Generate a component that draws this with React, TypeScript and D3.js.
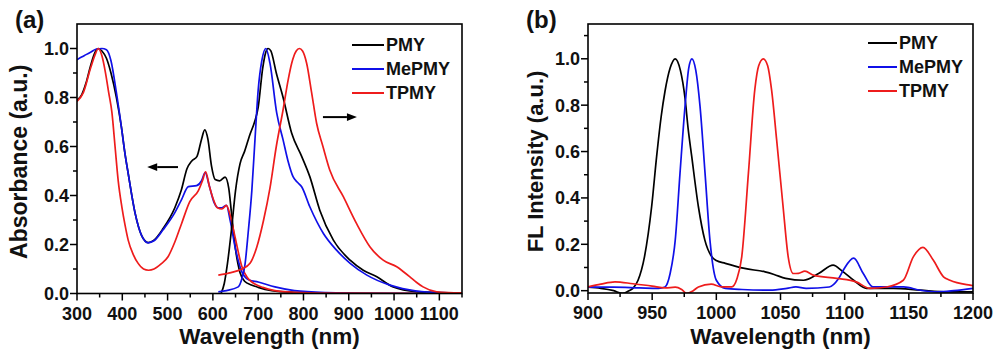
import { curveMonotoneX, line, range, scaleLinear } from 'd3'

type Pt = [number, number]

// (a) absorption, normalized
const absPMY: Pt[] = [
  [300, 0.79], [310, 0.81], [320, 0.86], [330, 0.93], [340, 0.985], [347, 1.0], [355, 0.99], [365, 0.96],
  [375, 0.9], [387, 0.8], [398, 0.68], [406, 0.57], [413, 0.49], [428, 0.33], [443, 0.235], [457, 0.208],
  [470, 0.218], [490, 0.265], [516, 0.35], [530, 0.42], [543, 0.51], [553, 0.54], [565, 0.56], [575, 0.63],
  [582, 0.668], [589, 0.63], [597, 0.52], [605, 0.465], [615, 0.46], [627, 0.475], [635, 0.43], [641, 0.33],
  [650, 0.18], [660, 0.085], [670, 0.05], [685, 0.035], [700, 0.025], [730, 0.012], [780, 0.005], [850, 0.002],
  [1000, 0.0], [1150, 0.0],
]
const absMePMY: Pt[] = [
  [300, 0.954], [310, 0.965], [320, 0.975], [330, 0.985], [343, 0.998], [355, 1.0], [365, 0.995], [375, 0.95],
  [387, 0.82], [398, 0.68], [406, 0.57], [413, 0.49], [428, 0.33], [443, 0.235], [457, 0.207], [470, 0.215],
  [490, 0.26], [516, 0.33], [530, 0.38], [546, 0.436], [564, 0.44], [575, 0.46], [583, 0.493], [592, 0.44],
  [603, 0.37], [612, 0.35], [620, 0.35], [630, 0.36], [638, 0.3], [649, 0.19], [664, 0.088], [680, 0.055],
  [700, 0.047], [737, 0.027], [780, 0.012], [850, 0.004], [950, 0.001], [1150, 0.0],
]
const absTPMY: Pt[] = [
  [300, 0.784], [314, 0.82], [330, 0.92], [340, 0.975], [347, 1.0], [355, 0.97], [362, 0.91], [370, 0.82],
  [377, 0.74], [384, 0.6], [391, 0.46], [399, 0.354], [406, 0.28], [413, 0.218], [424, 0.16], [435, 0.123],
  [447, 0.1], [458, 0.095], [470, 0.1], [485, 0.12], [501, 0.15], [516, 0.21], [531, 0.286], [549, 0.375],
  [568, 0.42], [577, 0.46], [584, 0.497], [592, 0.44], [600, 0.39], [610, 0.35], [620, 0.345], [630, 0.36],
  [638, 0.32], [649, 0.23], [664, 0.11], [676, 0.065], [686, 0.047], [710, 0.025], [737, 0.012], [780, 0.005],
  [850, 0.002], [1150, 0.0],
]

// (a) emission, normalized
const emPMY: Pt[] = [
  [618, 0.0], [625, 0.04], [632, 0.12], [641, 0.26], [650, 0.42], [660, 0.53], [670, 0.58], [682, 0.65],
  [692, 0.7], [700, 0.76], [710, 0.92], [716, 0.98], [722, 1.0], [728, 0.99], [740, 0.9], [755, 0.8],
  [774, 0.654], [796, 0.56], [814, 0.477], [836, 0.34], [866, 0.218], [903, 0.136], [932, 0.095], [962, 0.068],
  [998, 0.027], [1050, 0.008], [1100, 0.004], [1150, 0.003],
]
const emMePMY: Pt[] = [
  [612, 0.007], [630, 0.012], [656, 0.027], [664, 0.06], [671, 0.12], [678, 0.25], [686, 0.42], [693, 0.63],
  [700, 0.83], [708, 0.95], [717, 1.0], [726, 0.94], [741, 0.736], [755, 0.627], [766, 0.54], [777, 0.477],
  [786, 0.455], [796, 0.436], [814, 0.354], [844, 0.245], [873, 0.177], [903, 0.123], [940, 0.075], [991, 0.034],
  [1050, 0.01], [1100, 0.004], [1150, 0.003],
]
const emTPMY: Pt[] = [
  [612, 0.075], [640, 0.085], [664, 0.1], [682, 0.123], [697, 0.19], [712, 0.3], [726, 0.43], [740, 0.6],
  [755, 0.75], [766, 0.87], [774, 0.94], [784, 0.99], [791, 1.0], [798, 0.99], [807, 0.94], [818, 0.82],
  [829, 0.695], [843, 0.6], [858, 0.504], [888, 0.395], [917, 0.286], [947, 0.19], [976, 0.136], [1006, 0.109],
  [1020, 0.09], [1035, 0.068], [1050, 0.045], [1064, 0.027], [1094, 0.007], [1120, 0.004], [1150, 0.003],
]

// (b) NIR-II fluorescence, normalized
const flPMY: Pt[] = [
  [900, 0.015], [910, 0.01], [920, 0.0], [927, -0.012], [932, 0.0], [935, 0.01], [939, 0.045], [944, 0.146],
  [949.6, 0.363], [953.5, 0.58], [957, 0.75], [960, 0.86], [964, 0.96], [968, 1.0], [972, 0.95], [975.6, 0.83],
  [978, 0.7], [980.8, 0.58], [986, 0.363], [991, 0.219], [996, 0.15], [1000, 0.13], [1007, 0.118], [1022, 0.096],
  [1038, 0.081], [1045, 0.07], [1054, 0.053], [1068, 0.045], [1080, 0.075], [1091, 0.11], [1098, 0.085],
  [1107, 0.045], [1117, 0.01], [1138, 0.01], [1159, 0.002], [1180, -0.005], [1200, -0.005],
]
const flMePMY: Pt[] = [
  [900, 0.015], [920, 0.015], [940, 0.012], [955, 0.01], [960, 0.016], [964, 0.074], [968, 0.219], [971.7, 0.507],
  [975.6, 0.795], [978.5, 0.96], [981, 1.0], [984, 0.95], [987.3, 0.795], [991.2, 0.507], [995, 0.219],
  [1000, 0.045], [1007, 0.01], [1020, 0.005], [1042, 0.002], [1055, 0.01], [1062, 0.016], [1070, 0.01],
  [1088, 0.016], [1095, 0.05], [1099, 0.089], [1107, 0.14], [1114.5, 0.074], [1122, 0.016], [1146, 0.016],
  [1159, 0.002], [1172, -0.005], [1185, 0.0], [1200, 0.01],
]
const flTPMY: Pt[] = [
  [900, 0.016], [910, 0.028], [921, 0.038], [935, 0.03], [950, 0.02], [960, 0.012], [968, 0.015], [973, 0.005],
  [977, -0.012], [982, 0.0], [986, 0.016], [996, 0.028], [1004, 0.016], [1012, 0.016], [1016, 0.05],
  [1019.8, 0.146], [1025, 0.507], [1030, 0.868], [1033, 0.97], [1036.6, 1.0], [1040, 0.97], [1043, 0.868],
  [1047, 0.65], [1052, 0.363], [1056, 0.146], [1060, 0.074], [1064, 0.075], [1069, 0.084], [1075.6, 0.067],
  [1093.8, 0.053], [1109, 0.038], [1119.7, 0.01], [1132.7, 0.016], [1145.7, 0.045], [1153.5, 0.146],
  [1161, 0.187], [1169, 0.132], [1177, 0.06], [1182, 0.045], [1197.7, 0.024], [1200, 0.022],
]

const SERIES_NAMES = ['PMY', 'MePMY', 'TPMY']
const SERIES_COLORS = ['#000000', '#1010e8', '#ee1c1c']

const X_TICKS_A = range(300, 1101, 100)
const X_MINOR_A = range(350, 1151, 100)
const X_TICKS_B = range(900, 1201, 50)
const X_MINOR_B = range(925, 1200, 50)
const Y_TICKS = [0, 0.2, 0.4, 0.6, 0.8, 1.0]
const Y_MINOR_A = [0.1, 0.3, 0.5, 0.7, 0.9]
const Y_MINOR_B = [0.1, 0.3, 0.5, 0.7, 0.9, 1.1]

const FONT = '"Liberation Sans", Arial, sans-serif'

interface PanelProps {
  tag: string
  left: number
  right: number
  top: number
  bottom: number
  xDomain: [number, number]
  yDomain: [number, number]
  xTicks: number[]
  xMinor: number[]
  yMinor: number[]
  yTitle: string
  yTitleX: number
  yTitleSize: number
  curves: Pt[][]
  curveColors: string[]
  legendX: number
  legendY: number
  legendSpacing: number
  legendLine: number
  arrows?: { from: Pt; to: Pt }[]
}

function Panel(p: PanelProps) {
  const x = scaleLinear().domain(p.xDomain).range([p.left, p.right])
  const y = scaleLinear().domain(p.yDomain).range([p.bottom, p.top])
  const path = line<Pt>()
    .x((d) => x(d[0]))
    .y((d) => y(d[1]))
    .curve(curveMonotoneX)
  const midY = (p.top + p.bottom) / 2
  return (
    <g fontFamily={FONT} fontWeight="bold" fill="#111">
      <defs>
        <clipPath id={`clip-${p.tag}`}>
          <rect x={p.left} y={p.top} width={p.right - p.left} height={p.bottom - p.top} />
        </clipPath>
      </defs>
      <g clipPath={`url(#clip-${p.tag})`}>
        {p.curves.map((c, i) => (
          <path key={i} d={path(c) ?? undefined} fill="none" stroke={p.curveColors[i]} strokeWidth={1.7} strokeLinejoin="round" />
        ))}
      </g>
      <rect x={p.left} y={p.top} width={p.right - p.left} height={p.bottom - p.top} fill="none" stroke="#000" strokeWidth={1.6} />

      {p.xTicks.map((t) => (
        <g key={`xt${t}`}>
          <line x1={x(t)} x2={x(t)} y1={p.bottom} y2={p.bottom + 7} stroke="#000" strokeWidth={1.5} />
          <text x={x(t)} y={p.bottom + 26} fontSize={18} textAnchor="middle">{t}</text>
        </g>
      ))}
      {p.xMinor.map((t) => (
        <line key={`xm${t}`} x1={x(t)} x2={x(t)} y1={p.bottom} y2={p.bottom + 4} stroke="#000" strokeWidth={1.5} />
      ))}
      {Y_TICKS.map((t) => (
        <g key={`yt${t}`}>
          <line x1={p.left - 7} x2={p.left} y1={y(t)} y2={y(t)} stroke="#000" strokeWidth={1.5} />
          <text x={p.left - 8} y={y(t)} dy="0.36em" fontSize={18} textAnchor="end">{t.toFixed(1)}</text>
        </g>
      ))}
      {p.yMinor.map((t) => (
        <line key={`ym${t}`} x1={p.left - 4} x2={p.left} y1={y(t)} y2={y(t)} stroke="#000" strokeWidth={1.5} />
      ))}

      <text x={(p.left + p.right) / 2} y={344} fontSize={22.5} textAnchor="middle">Wavelength (nm)</text>
      <text transform={`translate(${p.yTitleX}, ${midY + 3}) rotate(-90)`} fontSize={p.yTitleSize} textAnchor="middle">
        {p.yTitle}
      </text>
      <text x={p.left - 62} y={28} fontSize={24}>({p.tag})</text>

      {SERIES_NAMES.map((name, i) => {
        const ly = p.legendY + i * p.legendSpacing
        return (
          <g key={name}>
            <line x1={p.legendX} x2={p.legendX + p.legendLine} y1={ly} y2={ly} stroke={SERIES_COLORS[i]} strokeWidth={2} />
            <text x={p.legendX + p.legendLine + 2} y={ly} dy="0.36em" fontSize={18}>{name}</text>
          </g>
        )
      })}

      {(p.arrows ?? []).map((a, i) => {
        const x1 = x(a.from[0])
        const y1 = y(a.from[1])
        const x2 = x(a.to[0])
        const dir = Math.sign(x2 - x1)
        const headBase = x2 - dir * 10
        return (
          <g key={`arr${i}`}>
            <line x1={x1} x2={headBase} y1={y1} y2={y1} stroke="#000" strokeWidth={2} />
            <polygon points={`${x2},${y1} ${headBase},${y1 - 3.8} ${headBase},${y1 + 3.8}`} fill="#000" />
          </g>
        )
      })}
    </g>
  )
}

export default function App() {
  return (
    <svg width={1000} height={358} viewBox="0 0 1000 358" style={{ position: 'absolute', left: 0, top: 0, background: '#fff' }}>
      <rect width={1000} height={358} fill="#fff" />
      <Panel
        tag="a"
        left={77}
        right={462}
        top={24}
        bottom={293.5}
        xDomain={[300, 1150]}
        yDomain={[0, 1.1]}
        xTicks={X_TICKS_A}
        xMinor={X_MINOR_A}
        yMinor={Y_MINOR_A}
        yTitle="Absorbance (a.u.)"
        yTitleX={27}
        yTitleSize={23}
        curves={[absPMY, absMePMY, absTPMY, emPMY, emMePMY, emTPMY]}
        curveColors={[...SERIES_COLORS, ...SERIES_COLORS]}
        legendX={352}
        legendY={45}
        legendSpacing={24}
        legendLine={32}
        arrows={[
          { from: [523, 0.516], to: [455, 0.516] },
          { from: [843, 0.72], to: [918, 0.72] },
        ]}
      />
      <Panel
        tag="b"
        left={588}
        right={973}
        top={24}
        bottom={293}
        xDomain={[900, 1200]}
        yDomain={[-0.01, 1.15]}
        xTicks={X_TICKS_B}
        xMinor={X_MINOR_B}
        yMinor={Y_MINOR_B}
        yTitle="FL Intensity (a.u.)"
        yTitleX={543}
        yTitleSize={22}
        curves={[flPMY, flMePMY, flTPMY]}
        curveColors={SERIES_COLORS}
        legendX={868}
        legendY={43}
        legendSpacing={24}
        legendLine={29}
      />
    </svg>
  )
}
